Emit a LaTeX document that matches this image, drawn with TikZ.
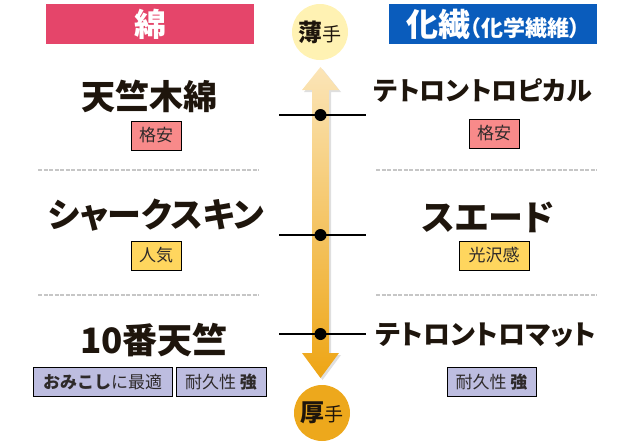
\documentclass[tikz,border=0pt]{standalone}
\usepackage{fontspec}
\setmainfont{Noto Sans CJK JP}
\newfontfamily\jpprop{Noto Sans CJK JP}[RawFeature=+palt]
\usetikzlibrary{positioning}

\definecolor{cottonred}{HTML}{E5456A}
\definecolor{synthblue}{HTML}{0A5CBC}
\definecolor{inkbrown}{HTML}{1E150C}
\definecolor{tagtext}{HTML}{2E2A2A}
\definecolor{cheaptag}{HTML}{F88A8A}
\definecolor{populartag}{HTML}{FFD65E}
\definecolor{toughtag}{HTML}{BDBDE0}
\definecolor{thincircle}{HTML}{FFF2B3}
\definecolor{thickcircle}{HTML}{EDA81C}
\definecolor{arrowtop}{HTML}{FBE5B8}
\definecolor{arrowbottom}{HTML}{EEA514}

\newcommand\headsize[1]{\fontsize{#1}{#1}\selectfont}

\tikzset{
  header/.style={minimum width=208pt,minimum height=40pt,inner sep=0pt,text=white,font=\jpprop\bfseries},
  fabric/.style={inner sep=0pt,text=inkbrown,font=\jpprop\bfseries\headsize{#1}},
  fabric/.default=30,
  tag/.style={draw=black,line width=0.8pt,minimum height=29pt,inner sep=0pt,text=tagtext,font=\headsize{17}},
  divider/.style={draw=gray!45,line width=1.5pt,dash pattern=on 4pt off 1.5pt},
  pointer/.style={line width=1.5pt},
  knob/.style={circle,fill=black,minimum size=12pt,inner sep=0pt},
  endcircle/.style={circle,minimum size=56pt,inner sep=0pt,text=inkbrown}
}

\begin{document}
\begin{tikzpicture}[x=1pt,y=-1pt]
	\useasboundingbox (0,0) rectangle (640,445);
	% headers
	\node [header,fill=cottonred,font=\jpprop\bfseries\headsize{32}] (cotton) at (150,24) {綿};
	\node [header,fill=synthblue] (synth) at (493,24) {{\headsize{32}化繊}{\headsize{22}（化学繊維）}};

	% dashed dividers
	\draw[divider] (38,170) -- (259,170);
	\draw[divider] (38,295) -- (259,295);
	\draw[divider] (376,170) -- (597,170);
	\draw[divider] (376,295) -- (597,295);

	% thickness arrow
	\fill [gray!25] (322.5,69) -- (341,92) -- (331,92) -- (331,355) -- (341,355) -- (322.5,380) -- (304,355) -- (314,355) -- (314,92) -- (304,92) -- cycle;
	\shade [top color=arrowtop,bottom color=arrowbottom] (320.5,67) -- (339,90) -- (329,90) -- (329,353) -- (339,353) -- (320.5,378) -- (302,353) -- (312,353) -- (312,90) -- (302,90) -- cycle;
	\node [endcircle,fill=thincircle] (thin) at (320,32) {{\bfseries\headsize{24}薄}{\headsize{19}手}};
	\node [endcircle,fill=thickcircle] (thick) at (322,413) {{\bfseries\headsize{24}厚}{\headsize{19}手}};

	% markers on the arrow
	\coordinate (l1) at (279,115); \coordinate (r1) at (366,115);
	\coordinate (l2) at (279,235); \coordinate (r2) at (366,235);
	\coordinate (l3) at (279,334); \coordinate (r3) at (366,334);
	\draw[pointer] (l1) -- (r1);
	\draw[pointer] (l2) -- (r2);
	\draw[pointer] (l3) -- (r3);
	\node [knob] (k1) at (320.5,115) {};
	\node [knob] (k2) at (320.5,235) {};
	\node [knob] (k3) at (320.5,334) {};

	% cotton side
	\node [fabric=34] (tenjiku) at (149,96) {天竺木綿};
	\node [tag,fill=cheaptag,minimum width=50pt] (cheapL) at (156,135.5) {格安};
	\node [fabric=34] (shark) at (156,215) {シャークスキン};
	\node [tag,fill=populartag,minimum width=50pt] (popular) at (156,255.5) {人気};
	\node [fabric=35] (number10) at (154,340) {10番天竺};
	\node [tag,fill=toughtag,minimum width=139pt] (omikoshi) at (102.5,382) {{\bfseries おみこし}に最適};
	\node [tag,fill=toughtag,minimum width=90pt] (toughL) at (221,382) {耐久性 {\bfseries 強}};

	% synthetic side
	\node [fabric=26] (tropical) at (483,91) {テトロントロピカル};
	\node [tag,fill=cheaptag,minimum width=50pt] (cheapR) at (494,133.5) {格安};
	\node [fabric=35] (suede) at (488,217) {スエード};
	\node [tag,fill=populartag,minimum width=70pt] (gloss) at (494,255.5) {光沢感};
	\node [fabric=27] (matte) at (486,335) {テトロントロマット};
	\node [tag,fill=toughtag,minimum width=89pt] (toughR) at (491.5,382) {耐久性 {\bfseries 強}};
\end{tikzpicture}
\end{document}
